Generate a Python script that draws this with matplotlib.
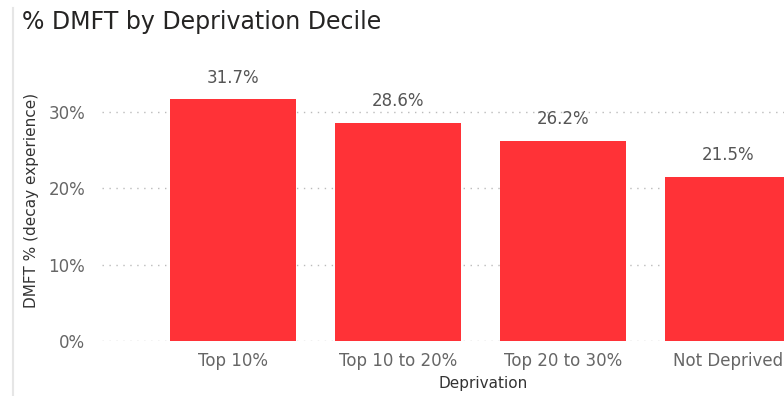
import matplotlib.pyplot as plt
from matplotlib.lines import Line2D

categories = ["Top 10%", "Top 10 to 20%", "Top 20 to 30%", "Not Deprived"]
dmft_pct = [31.7, 28.6, 26.2, 21.5]
y_ticks = [0, 10, 20, 30]

W, H = 784, 396
fig = plt.figure(figsize=(W / 100, H / 100), dpi=100)

# plot area in pixels: x 102..784, y 70..341
ax = fig.add_axes([102 / W, (H - 341) / H, (W - 102) / W, (341 - 70) / H])

x = list(range(len(categories)))
ax.bar(x, dmft_pct, width=0.765, color="#FF3237", zorder=2)

for xi, v in zip(x, dmft_pct):
    ax.annotate(f"{v:.1f}%", (xi, v), xytext=(0, 9), textcoords="offset points",
                ha="center", va="bottom", fontsize=12, color="#555555")

ax.set_xlim(-0.794, 3.34)
ax.set_ylim(0, 35.5)
ax.set_xticks(x)
ax.set_xticklabels(categories, fontsize=12, color="#666666")
ax.set_yticks(y_ticks)
ax.set_yticklabels([f"{t}%" for t in y_ticks], fontsize=12, color="#666666")
ax.tick_params(length=0, pad=8)
ax.tick_params(axis="y", pad=12)
ax.yaxis.grid(True, linestyle=(0, (1, 4)), color="#BBBBBB", linewidth=1, zorder=0)
for s in ax.spines.values():
    s.set_visible(False)

ax.set_ylabel("DMFT % (decay experience)", fontsize=11, color="#333333")
ax.yaxis.set_label_coords(-0.093, 0.52)
ax.set_xlabel("Deprivation", fontsize=11, color="#333333")
ax.xaxis.set_label_coords((483 - 102) / (W - 102), -0.13)

fig.text(22 / W, 1 - 22 / H, "% DMFT by Deprivation Decile", fontsize=17,
         color="#252423", ha="left", va="center")

fig.add_artist(Line2D([13 / W, 13 / W], [0, 1 - 8 / H], color="#E6E6E6", linewidth=1.5))

fig.savefig("out.png", dpi=100, facecolor="white")
